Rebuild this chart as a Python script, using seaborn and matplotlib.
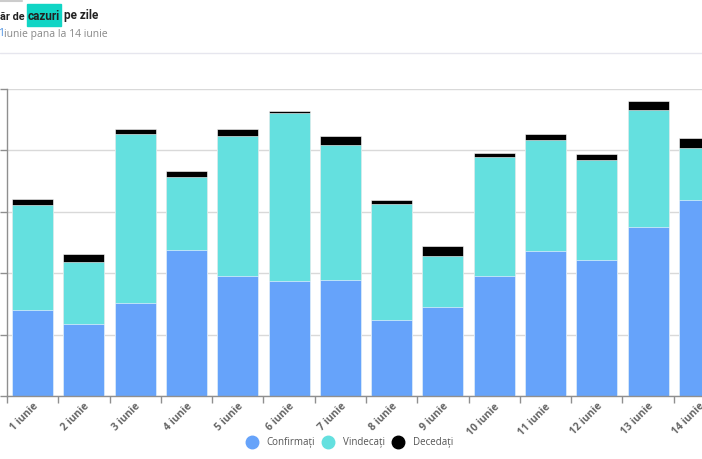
import numpy as np
import pandas as pd
import matplotlib
matplotlib.use("Agg")
import matplotlib.pyplot as plt
from matplotlib.lines import Line2D
from matplotlib.patches import Rectangle
import seaborn as sns

# ---- data ----
days = ["1 iunie", "2 iunie", "3 iunie", "4 iunie", "5 iunie", "6 iunie", "7 iunie",
        "8 iunie", "9 iunie", "10 iunie", "11 iunie", "12 iunie", "13 iunie", "14 iunie"]
confirmati = [140, 118, 151, 238, 196, 187, 189, 124, 145, 196, 237, 222, 275, 320]
vindecati = [171, 101, 275, 119, 227, 274, 220, 189, 83, 193, 180, 162, 191, 84]
decedati = [10, 12, 9, 9, 12, 3, 15, 7, 16, 7, 9, 11, 15, 16]
series_names = ["Confirmați", "Vindecați", "Decedați"]
colors = ["#66a3fa", "#64e0df", "#000000"]

sns.set_style("white")
plt.rcParams["font.family"] = ["Open Sans", "DejaVu Sans"]

df = pd.DataFrame({"zi": days, "c": confirmati, "v": vindecati, "d": decedati})
df["cv"] = df["c"] + df["v"]
df["total"] = df["cv"] + df["d"]

W, H = 702, 459
fig = plt.figure(figsize=(W / 100, H / 100), dpi=100)
ax = fig.add_axes([7 / W, (H - 396.3) / H, 718 / W, (396.3 - 89) / H])

sns.barplot(data=df, x="zi", y="total", color=colors[2], saturation=1, width=0.8,
            edgecolor="white", linewidth=0.4, ax=ax, order=days)
sns.barplot(data=df, x="zi", y="cv", color=colors[1], saturation=1, width=0.8,
            edgecolor="white", linewidth=0.4, ax=ax, order=days)
sns.barplot(data=df, x="zi", y="c", color=colors[0], saturation=1, width=0.8,
            edgecolor="white", linewidth=0.4, ax=ax, order=days)

ax.set_xlim(-0.5, 13.5)
ax.set_ylim(0, 500)
ax.set_yticks(np.arange(0, 501, 100))
ax.set_yticklabels([])
ax.yaxis.grid(True, color="#d9d9d9", linewidth=1)
ax.set_axisbelow(True)
ax.set_xlabel("")
ax.set_ylabel("")

for s in ["top", "right"]:
    ax.spines[s].set_visible(False)
for s in ["left", "bottom"]:
    ax.spines[s].set_color("#8f8f8f")
    ax.spines[s].set_linewidth(1)

ax.tick_params(axis="y", which="major", left=True, length=5, width=1, color="#8f8f8f")
ax.set_xticks(range(len(days)))
ax.set_xticklabels(days)
ax.set_xticks(np.arange(-0.5, len(days), 1), minor=True)
ax.tick_params(axis="x", which="major", length=0, pad=3.5, labelsize=7.5, labelcolor="#666666")
ax.tick_params(axis="x", which="minor", bottom=True, length=5, width=1, color="#8f8f8f")
for lab in ax.get_xticklabels():
    lab.set_rotation(45)
    lab.set_ha("right")
    lab.set_va("top")
    lab.set_rotation_mode("anchor")
    lab.set_fontweight("bold")

handles = [Line2D([], [], marker="o", linestyle="", markersize=9, color=c) for c in colors]
fig.legend(handles, series_names, loc="center", bbox_to_anchor=(350 / W, 1 - 443 / H),
           ncol=3, frameon=False, handlelength=1.0, handletextpad=1.0, columnspacing=0.85,
           fontsize=7, labelcolor="#555555")

# ---- title area ----
title_font = ["Roboto", "DejaVu Sans"]
fig.add_artist(Rectangle((27 / W, 1 - 25.5 / H), 34 / W, 21.5 / H,
                         transform=fig.transFigure, color="#10d5c5", zorder=0))
fig.text(0.5 / W, 1 - 19.5 / H, "ăr de", fontsize=7.8, fontweight="bold", color="#222222",
         ha="left", va="baseline", family=title_font)
fig.text(44 / W, 1 - 19.5 / H, "cazuri", fontsize=8.5, fontweight="bold", color="#222222",
         ha="center", va="baseline", family=title_font)
fig.text(64 / W, 1 - 19.5 / H, "pe zile", fontsize=8.5, fontweight="bold", color="#222222",
         ha="left", va="baseline", family=title_font)
fig.text(-1.5 / W, 1 - 36.5 / H, "1", fontsize=7.5, color="#4a90e2", ha="left", va="baseline")
fig.text(4.5 / W, 1 - 36.5 / H, "iunie pana la 14 iunie", fontsize=7.5, color="#888888",
         ha="left", va="baseline")
fig.add_artist(Line2D([0, 1], [1 - 52.5 / H] * 2, transform=fig.transFigure,
                      color="#e6e6ee", linewidth=1))
fig.add_artist(Line2D([0, 22 / W], [1 - 0.7 / H] * 2, transform=fig.transFigure,
                      color="#cccccc", linewidth=1.5))

fig.savefig("out.png", dpi=100)
